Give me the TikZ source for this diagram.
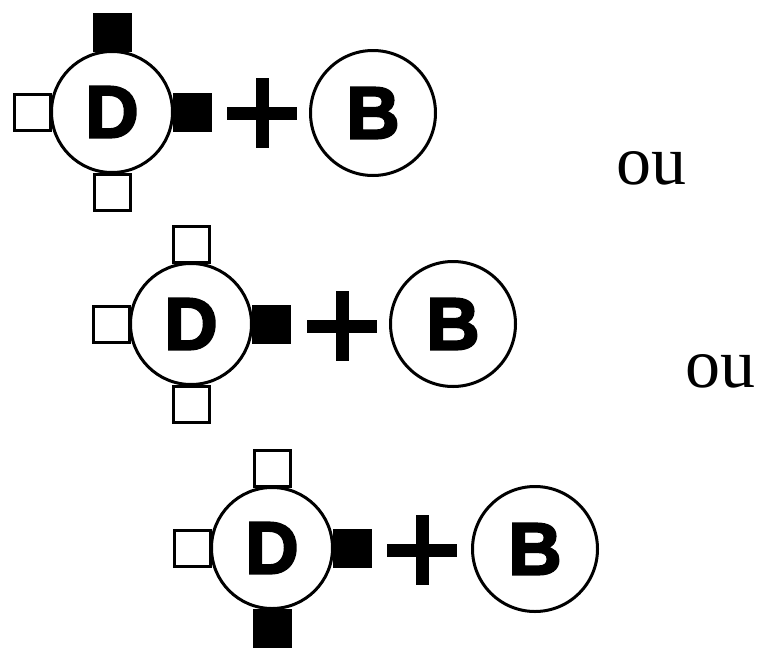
\documentclass[tikz,border=0pt]{standalone}
\usepackage{fontspec}
\usetikzlibrary{calc}
\setmainfont{Liberation Serif}
\newfontfamily\letterfont{Liberation Sans}[BoldFeatures={FakeBold=3}]
\begin{document}
\begin{tikzpicture}[x=1pt,y=-1pt,
  outl/.style={line width=3pt},
  sqw/.style={outl,draw,fill=white,minimum size=36pt,inner sep=0pt,shape=rectangle},
  sqb/.style={outl,draw,fill=black,minimum size=36pt,inner sep=0pt,shape=rectangle},
  dball/.style={outl,draw,fill=white,circle,minimum size=121pt,inner sep=0pt,
    font=\letterfont\bfseries\fontsize{74}{74}\selectfont},
  bball/.style={outl,draw,fill=white,circle,minimum size=125pt,inner sep=0pt,
    font=\letterfont\bfseries\fontsize{74}{74}\selectfont},
  plusbar/.style={line width=13pt},
  word/.style={inner sep=0pt,font=\fontsize{70}{70}\selectfont}]
\useasboundingbox[fill=white] (0,0) rectangle (763,648);

% row 1
\coordinate (c1) at (112,112);
\node[sqb] (t1) at ($(c1)+(0,-80)$) {};
\node[sqw] (l1) at ($(c1)+(-80,0)$) {};
\node[sqb] (r1) at ($(c1)+(80,0)$) {};
\node[sqw] (b1) at ($(c1)+(0,80)$) {};
\node[dball] (d1) at (c1) {D};
\coordinate (p1) at (262,113);
\draw[plusbar] ($(p1)+(-35,0)$) -- ($(p1)+(35,0)$);
\draw[plusbar] ($(p1)+(0,-35)$) -- ($(p1)+(0,35)$);
\node[bball] (e1) at (373,113) {B};
\node[word] (ou1) at (651,168) {ou};

% row 2
\coordinate (c2) at (191,324);
\node[sqw] (t2) at ($(c2)+(0,-80)$) {};
\node[sqw] (l2) at ($(c2)+(-80,0)$) {};
\node[sqb] (r2) at ($(c2)+(80,0)$) {};
\node[sqw] (b2) at ($(c2)+(0,80)$) {};
\node[dball] (d2) at (c2) {D};
\coordinate (p2) at (342,326);
\draw[plusbar] ($(p2)+(-35,0)$) -- ($(p2)+(35,0)$);
\draw[plusbar] ($(p2)+(0,-35)$) -- ($(p2)+(0,35)$);
\node[bball] (e2) at (453,324) {B};
\node[word] (ou2) at (720,371) {ou};

% row 3
\coordinate (c3) at (272,548);
\node[sqw] (t3) at ($(c3)+(0,-80)$) {};
\node[sqw] (l3) at ($(c3)+(-80,0)$) {};
\node[sqb] (r3) at ($(c3)+(80,0)$) {};
\node[sqb] (b3) at ($(c3)+(0,80)$) {};
\node[dball] (d3) at (c3) {D};
\coordinate (p3) at (422,550);
\draw[plusbar] ($(p3)+(-35,0)$) -- ($(p3)+(35,0)$);
\draw[plusbar] ($(p3)+(0,-35)$) -- ($(p3)+(0,35)$);
\node[bball] (e3) at (535,549) {B};
\end{tikzpicture}
\end{document}
